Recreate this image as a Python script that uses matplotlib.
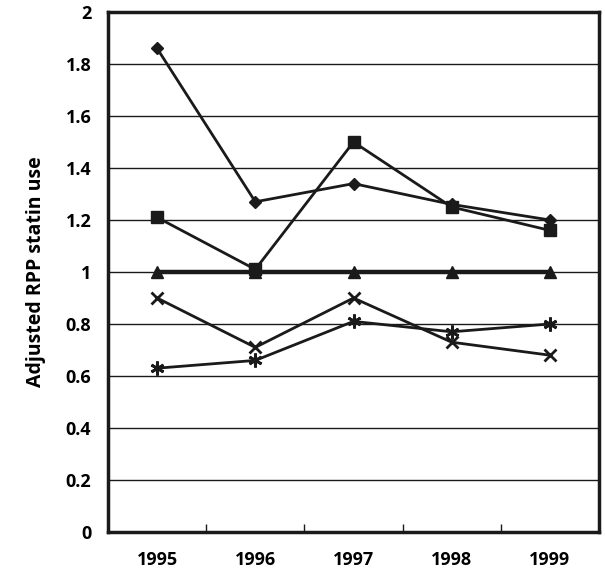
import matplotlib
matplotlib.use("Agg")
import matplotlib.pyplot as plt
import numpy as np

years = ["1995", "1996", "1997", "1998", "1999"]
diamond = [1.86, 1.27, 1.34, 1.26, 1.20]
square = [1.21, 1.01, 1.50, 1.25, 1.16]
triangle = [1.0, 1.0, 1.0, 1.0, 1.0]
cross = [0.90, 0.71, 0.90, 0.73, 0.68]
star = [0.63, 0.66, 0.81, 0.77, 0.80]
yticks = [0, 0.2, 0.4, 0.6, 0.8, 1, 1.2, 1.4, 1.6, 1.8, 2]
ylabels = ["0", "0.2", "0.4", "0.6", "0.8", "1", "1.2", "1.4", "1.6", "1.8", "2"]

plt.rcParams['font.family'] = ['Open Sans', 'DejaVu Sans']

fig = plt.figure(figsize=(6.05, 5.76), dpi=100)
ax = fig.add_axes([108/605, 44/576, 491/605, 520/576])

x = np.arange(len(years)) + 0.5
k = '#1a1a1a'
ax.plot(x, triangle, color=k, lw=3.2, marker='^', ms=8, zorder=3)
ax.plot(x, diamond, color=k, lw=2, marker='D', ms=6, zorder=4)
ax.plot(x, square, color=k, lw=2, marker='s', ms=9, zorder=4)
ax.plot(x, cross, color=k, lw=2, marker='x', ms=8, mew=2, zorder=4)
ax.plot(x, star, color=k, lw=2, marker=(6, 2, 0), ms=10, mew=2, zorder=4)

ax.set_xlim(0, 5)
ax.set_ylim(0, 2)
ax.set_yticks(yticks)
ax.set_yticklabels(ylabels, fontsize=13, fontweight='bold')
ax.yaxis.grid(True, color=k, lw=1)
ax.set_axisbelow(True)
ax.tick_params(axis='y', length=0, pad=12)

ax.set_xticks([1, 2, 3, 4])
ax.set_xticklabels([])
ax.set_xticks(x, minor=True)
ax.set_xticklabels(years, minor=True, fontsize=13, fontweight='bold')
ax.tick_params(axis='x', which='major', direction='in', length=6, width=1, color=k)
ax.tick_params(axis='x', which='minor', length=0, pad=14)

for s in ax.spines.values():
    s.set_linewidth(2.5)
    s.set_color(k)

ax.set_ylabel("Adjusted RPP statin use", fontsize=14, fontweight='bold', labelpad=14)

fig.savefig("out.png", dpi=100)
